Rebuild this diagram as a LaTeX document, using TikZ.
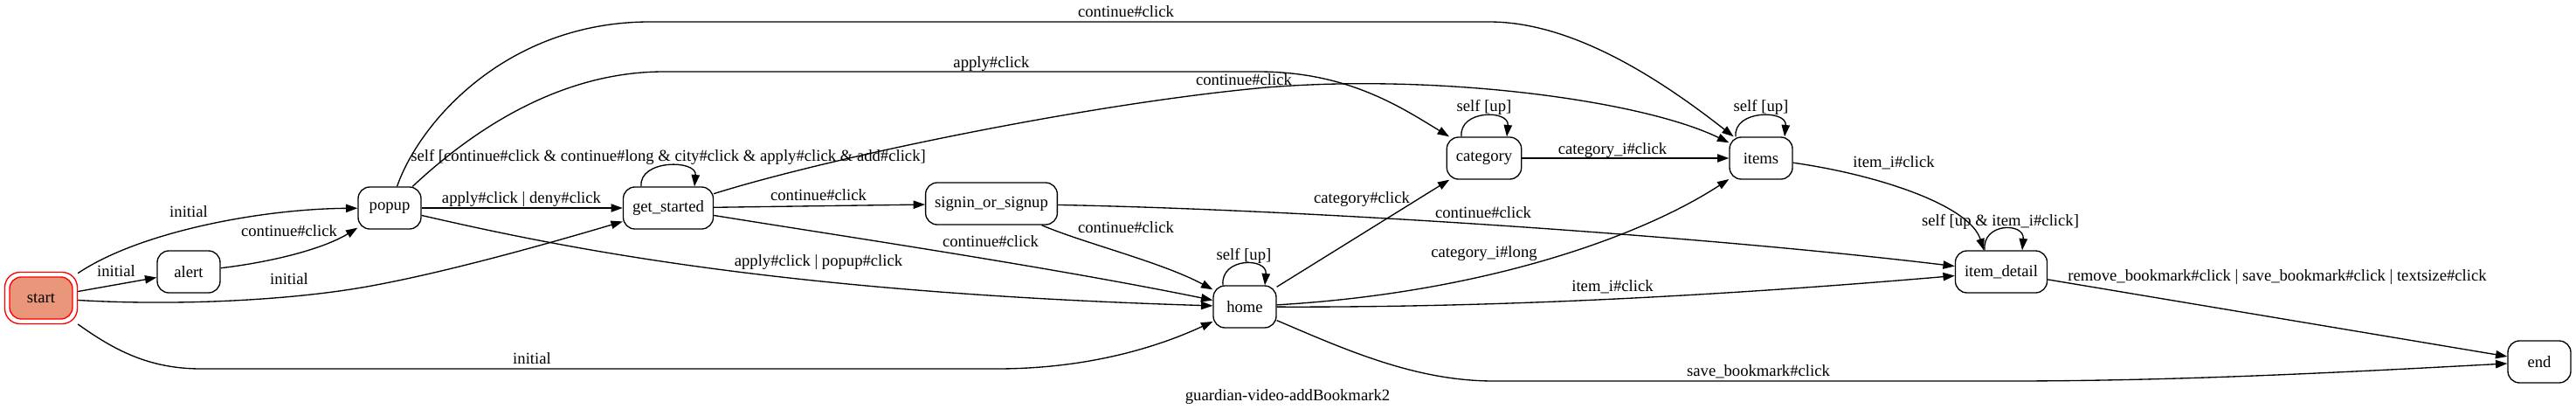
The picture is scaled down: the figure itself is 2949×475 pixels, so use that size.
\documentclass[tikz,border=0pt]{standalone}
\usepackage{fontspec}
\setmainfont{Liberation Serif}
\usetikzlibrary{arrows.meta,calc}
\definecolor{salmonc}{RGB}{233,150,122}
\begin{document}
\begin{tikzpicture}[x=0.75pt,y=-0.75pt,
  stbox/.style={draw, line width=1pt, rounded corners=10pt, minimum width=54pt, minimum height=36pt, inner xsep=7.92pt, inner ysep=0pt, font=\fontsize{14pt}{16pt}\selectfont},
  lab/.style={inner sep=0pt, font=\fontsize{14pt}{16pt}\selectfont, text height=9.5pt, text depth=3pt},
  conn/.style={line width=1pt, -{Triangle[length=10pt,width=7pt]}},
]
\path[use as bounding box] (0,0) rectangle (2949,475);
% nodes
\node[stbox, fill=salmonc, draw=red] (startin) at (47,341) {start};
\node[draw=red, line width=1pt, rounded corners=13pt, inner sep=0pt, minimum width=62.25pt, minimum height=44.25pt] (start) at (47,341) {};
\node[stbox] (alert) at (216,311) {alert};
\node[stbox] (popup) at (446,238) {popup};
\node[stbox] (gs) at (765,238) {get\_started};
\node[stbox] (signin) at (1135,233) {signin\_or\_signup};
\node[stbox] (home) at (1425,351) {home};
\node[stbox] (cat) at (1699,181) {category};
\node[stbox] (items) at (2016,181) {items};
\node[stbox] (det) at (2291,311) {item\_detail};
\node[stbox] (endn) at (2907,414) {end};
% edges
\draw[conn] (start) .. controls (160,265) and (300,239) .. (popup);
\node[lab] (l1) at (216,244) {initial};
\draw[conn] (start) -- (alert);
\node[lab] (l2) at (133,312) {initial};
\draw[conn] (alert) .. controls (310,300) and (370,285) .. (popup);
\node[lab] (l3) at (331,266) {continue\#click};
\draw[conn] (start) .. controls (200,350) and (330,344) .. (420,328) .. controls (510,312) and (630,278) .. (gs);
\node[lab] (l4) at (331,321) {initial};
\draw[conn] (start) .. controls (130,400) and (170,422) .. (230,422) -- (1141,422) .. controls (1250,422) and (1330,395) .. (home);
\node[lab] (l5) at (609,412) {initial};
\draw[conn] (popup) -- (gs);
\node[lab] (l6) at (597,228) {apply\#click | deny\#click};
\draw[conn] (popup) .. controls (650,285) and (900,335) .. (home);
\node[lab] (l7) at (937,300) {apply\#click | popup\#click};
\draw[conn] (popup) .. controls (480,140) and (580,25) .. (744,25) -- (1705,25) .. controls (1800,25) and (1900,90) .. (items);
\node[lab] (l8) at (1289,15) {continue\#click};
\draw[conn] (popup) .. controls (540,150) and (640,82) .. (760,82) -- (1440,82) .. controls (1540,82) and (1600,120) .. (cat);
\node[lab] (l9) at (1135,73) {apply\#click};
\draw[conn] ($(gs.north)+(-31,0)$) .. controls +(-3,-31) and +(3,-31) .. ($(gs.north)+(30,0)$);
\node[lab] (l10) at (765,180) {self [continue\#click \& continue\#long \& city\#click \& apply\#click \& add\#click]};
\draw[conn] (gs) .. controls (950,180) and (1250,118) .. (1450,100) .. controls (1650,84) and (1880,115) .. (items);
\node[lab] (l11) at (1424,93) {continue\#click};
\draw[conn] (gs) -- (signin);
\node[lab] (l12) at (937,225) {continue\#click};
\draw[conn] (gs) .. controls (950,268) and (1200,305) .. (home);
\node[lab] (l13) at (1134,278) {continue\#click};
\draw[conn] (signin) .. controls (1240,278) and (1330,300) .. (home);
\node[lab] (l14) at (1289,262) {continue\#click};
\draw[conn] (signin) .. controls (1500,240) and (1950,270) .. (det);
\node[lab] (l15) at (1698,245) {continue\#click};
\draw[conn] ($(home.north)+(-25,0)$) .. controls +(-3,-32) and +(3,-32) .. ($(home.north)+(23,0)$);
\node[lab] (l16) at (1424,293) {self [up]};
\draw[conn] (home) -- (cat);
\node[lab] (l17) at (1559,228) {category\#click};
\draw[conn] (home) .. controls (1700,335) and (1880,270) .. (items);
\node[lab] (l18) at (1699,290) {category\_i\#long};
\draw[conn] (home) .. controls (1700,352) and (1950,340) .. (det);
\node[lab] (l19) at (1846,329) {item\_i\#click};
\draw[conn] (home) .. controls (1540,400) and (1620,436) .. (1710,436) -- (2300,436) .. controls (2500,436) and (2700,425) .. (endn);
\node[lab] (l20) at (2013,426) {save\_bookmark\#click};
\draw[conn] ($(cat.north)+(-26,0)$) .. controls +(-3,-31) and +(3,-31) .. ($(cat.north)+(26,0)$);
\node[lab] (l21) at (1699,123) {self [up]};
\draw[conn] (cat) -- (items);
\node[lab] (l22) at (1846,172) {category\_i\#click};
\draw[conn] ($(items.north)+(-29,0)$) .. controls +(-3,-31) and +(3,-31) .. ($(items.north)+(27,0)$);
\node[lab] (l23) at (2016,123) {self [up]};
\draw[conn] (items) .. controls (2150,200) and (2255,235) .. ($(det.north)+(-20,0)$);
\node[lab] (l24) at (2168,187) {item\_i\#click};
\draw[conn] ($(det.north)+(-19,0)$) .. controls +(-3,-32) and +(3,-32) .. ($(det.north)+(24,0)$);
\node[lab] (l25) at (2290,254) {self [up \& item\_i\#click]};
\draw[conn] (det) -- (endn);
\node[lab] (l26) at (2607,317) {remove\_bookmark\#click | save\_bookmark\#click | textsize\#click};
\node[lab] (caption) at (1474,454) {guardian-video-addBookmark2};
\end{tikzpicture}
\end{document}
